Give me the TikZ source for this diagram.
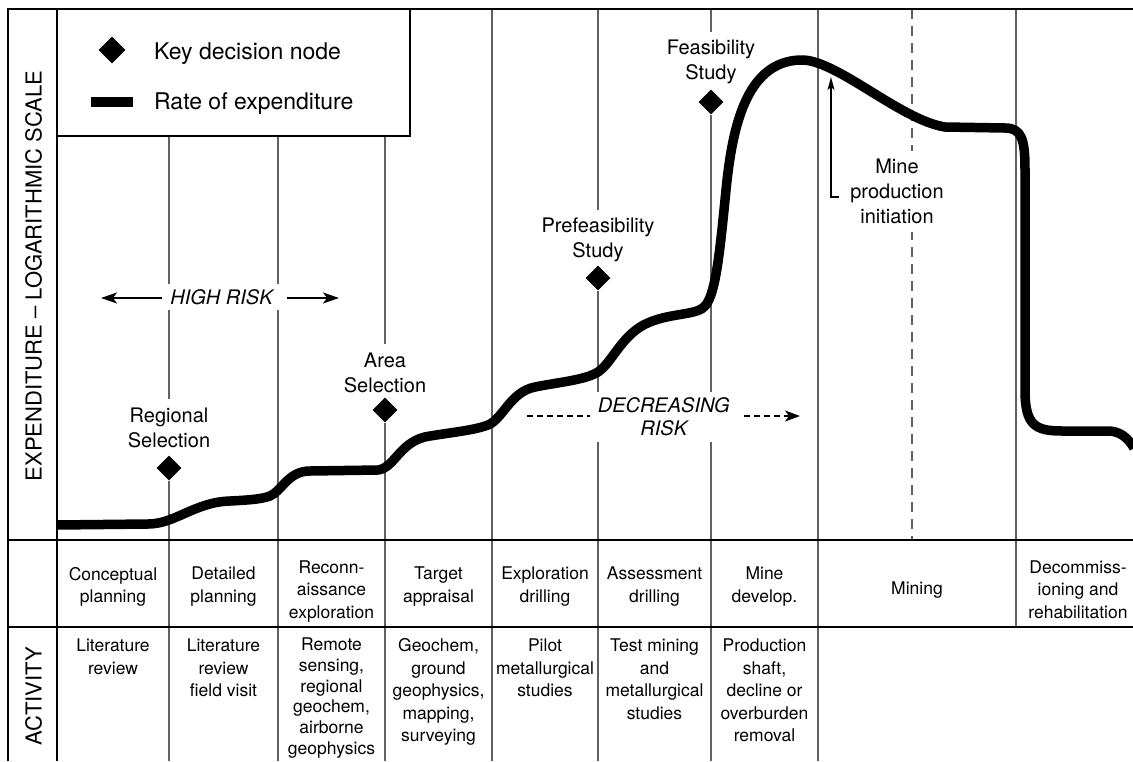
\documentclass[tikz,border=0pt]{standalone}
\usepackage{fontspec}
\setmainfont{TeX Gyre Heros}
\usetikzlibrary{shapes.geometric,arrows.meta}
\begin{document}
\begin{tikzpicture}[x=1pt,y=-1pt,
  frame/.style={line width=2pt,black},
  gridline/.style={line width=1.3pt,black!62},
  minedash/.style={line width=1.3pt,black!62,dash pattern=on 10pt off 7pt},
  dnode/.style={diamond,fill=black,inner sep=0pt,minimum width=25pt,minimum height=25pt},
  dlabel/.style={align=center,font=\fontsize{20}{25}\selectfont,inner xsep=3pt,inner ysep=8pt,fill=white},
  cell/.style={align=center,font=\fontsize{17.5}{22.5}\selectfont,inner sep=0pt,anchor=north},
  risk/.style={align=center,font=\fontsize{20}{23}\selectfont\itshape,fill=white,inner xsep=8pt,inner ysep=5pt},
  riskarrow/.style={line width=1.8pt,-{Stealth[length=16pt,width=11pt,inset=4pt]}},
  riskdash/.style={line width=1.5pt,dash pattern=on 6pt off 4pt},
  thinarrow/.style={line width=1.2pt,-{Stealth[length=13pt,width=7pt,inset=3pt]}},
  legtext/.style={font=\fontsize{23}{28}\selectfont,inner sep=0pt,anchor=base west},
  axistext/.style={font=\fontsize{22}{26}\selectfont,rotate=90,inner sep=0pt},
  curve/.style={line width=9.5pt,line join=round},
]
\useasboundingbox (0,0) rectangle (1133,761);

% ---------- labels and diamonds ----------
\node[dlabel] (lReg)  at (169,427.5) {Regional\\Selection};
\node[dlabel] (lArea) at (385,372.5) {Area\\Selection};
\node[dlabel] (lPre)  at (598,240)   {Prefeasibility\\Study};
\node[dlabel] (lFeas) at (711,62)    {Feasibility\\Study};
\node[dnode] (dReg)  at (169,468) {};
\node[dnode] (dArea) at (385,410) {};
\node[dnode] (dPre)  at (598,278) {};
\node[dnode] (dFeas) at (711,102) {};

% ---------- grid lines ----------
\draw[gridline] (169,136) -- (lReg.north);
\draw[gridline] (dReg.south) -- (169,761);
\draw[gridline] (278,136) -- (278,761);
\draw[gridline] (385,136) -- (lArea.north);
\draw[gridline] (dArea.south) -- (385,761);
\draw[gridline] (492,9) -- (492,761);
\draw[gridline] (598,9) -- (lPre.north);
\draw[gridline] (dPre.south) -- (598,761);
\draw[gridline] (711,9) -- (lFeas.north);
\draw[gridline] (dFeas.south) -- (711,761);
\draw[gridline] (818,9) -- (818,761);
\draw[gridline] (1016,9) -- (1016,627);
\draw[minedash] (912,9) -- (912,540);

% ---------- frame ----------
\draw[frame] (8,761) -- (8,9) -- (1133,9);
\draw[frame] (57,9) -- (57,761);
\draw[frame] (8,540) -- (1133,540);
\draw[frame] (8,627) -- (1133,627);
\draw[frame,fill=white] (57,9) rectangle (410,136);

% ---------- legend ----------
\node[dnode,minimum width=27pt,minimum height=27pt] (legD) at (112,50) {};
\node[legtext] (legDT) at (154,59.6) {Key decision node};
\coordinate (legBarL) at (91,102);
\coordinate (legBarR) at (133,102);
\draw[line width=9.5pt] (legBarL) -- (legBarR);
\node[legtext] (legBT) at (154,109.5) {Rate of expenditure};

% ---------- axis labels ----------
\node[axistext] (ylab) at (33.5,276) {EXPENDITURE – LOGARITHMIC SCALE};
\node[axistext] (act) at (33.5,696) {ACTIVITY};

% ---------- risk annotations ----------
\node[risk] (hr) at (221.5,297) {HIGH RISK};
\coordinate (hrL) at (101,298);
\coordinate (hrR) at (339,298);
\draw[riskarrow] (hr.west |- hrL) -- (hrL);
\draw[riskarrow] ([xshift=6pt]hr.east |- hrR) -- (hrR);

\node[risk,inner ysep=6pt] (dr) at (663.8,417) {DECREASING\\RISK};
\coordinate (drL) at (527,416);
\coordinate (drR) at (800,416);
\draw[riskdash] (drL) -- (drL -| dr.west);
\draw[riskdash,-{Stealth[length=15pt,width=11pt,inset=4pt]}] ([xshift=6pt]dr.east |- drR) -- (drR);

% ---------- mine production initiation ----------
\node[dlabel] (mpi) at (897,191.6) {Mine\\production\\initiation};
\coordinate (mpiStart) at (839,197);
\coordinate (mpiCorner) at (831,197);
\coordinate (mpiTip) at (831,77);
\draw[thinarrow] (mpiStart) -- (mpiCorner) -- (mpiTip);

% ---------- expenditure curve ----------
\draw[curve] (57,525) -- (148,524)
 .. controls (175,524) and (195,502) .. (230,501)
 .. controls (250,500) and (262,499) .. (270,496)
 .. controls (282,491) and (288,471) .. (310,471)
 -- (378,470)
 .. controls (395,468) and (400,440) .. (430,436)
 .. controls (455,432) and (475,430) .. (488,425)
 .. controls (503,419) and (510,392) .. (535,387)
 .. controls (560,382) and (585,380) .. (598,372)
 .. controls (613,362) and (622,333) .. (650,322)
 .. controls (672,313) and (698,315) .. (705,306)
 .. controls (716,294) and (720,250) .. (726,190)
 .. controls (732,130) and (745,62) .. (800,60)
 .. controls (835,58) and (900,120) .. (945,127)
 -- (1005,128)
 .. controls (1022,128) and (1025,140) .. (1025,170)
 -- (1025,390)
 .. controls (1025,425) and (1035,431) .. (1062,431)
 -- (1108,431)
 .. controls (1120,431) and (1128,438) .. (1134,448);

% ---------- table row 1 ----------
\node[cell] (p1) at (113,567)    {Conceptual\\planning};
\node[cell] (p2) at (223.5,567)  {Detailed\\planning};
\node[cell] (p3) at (331.5,560.4){Reconn-\\aissance\\exploration};
\node[cell] (p4) at (438.5,567)  {Target\\appraisal};
\node[cell] (p5) at (545,567)    {Exploration\\drilling};
\node[cell] (p6) at (654.5,567)  {Assessment\\drilling};
\node[cell] (p7) at (764.5,567)  {Mine\\develop.};
\node[cell] (p8) at (917,582)    {Mining};
\node[cell] (p9) at (1078,560.4) {Decommiss-\\ioning and\\rehabilitation};

% ---------- table row 2 ----------
\node[cell] (a1) at (113,638.7)   {Literature\\review};
\node[cell] (a2) at (223.5,638.7) {Literature\\review\\field visit};
\node[cell,font=\fontsize{17.5}{20.8}\selectfont] (a3) at (331.5,637.5) {Remote\\sensing,\\regional\\geochem,\\airborne\\geophysics};
\node[cell] (a4) at (438.5,638.7) {Geochem,\\ground\\geophysics,\\mapping,\\surveying};
\node[cell] (a5) at (545,638.7)   {Pilot\\metallurgical\\studies};
\node[cell] (a6) at (654.5,638.7) {Test mining\\and\\metallurgical\\studies};
\node[cell] (a7) at (764.5,638.7) {Production\\shaft,\\decline or\\overburden\\removal};
\end{tikzpicture}
\end{document}
